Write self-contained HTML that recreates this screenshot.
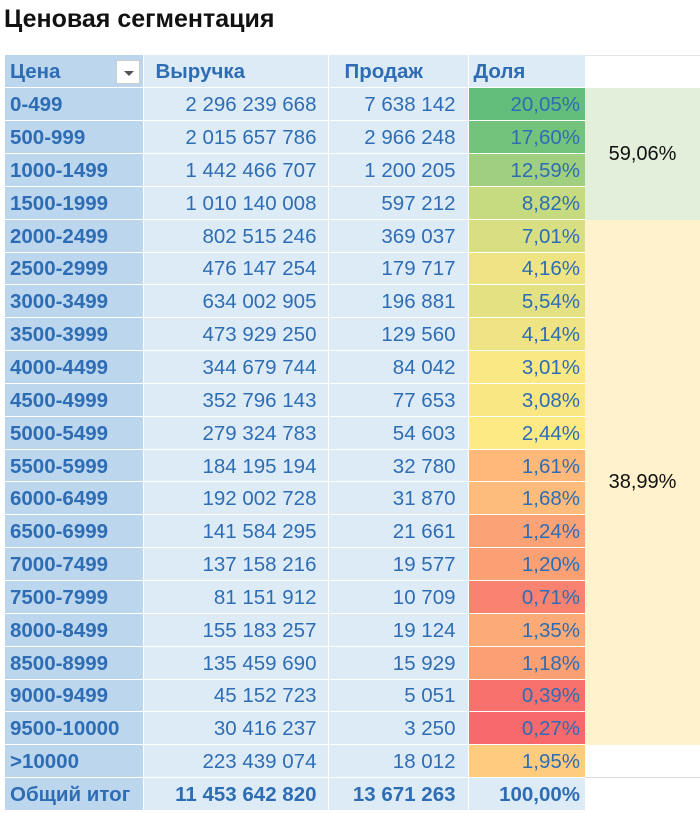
<!DOCTYPE html>
<html><head><meta charset="utf-8"><style>
body{margin:0;width:700px;height:813px;background:#fff;font-family:"Liberation Sans",sans-serif;position:relative;overflow:hidden}
.t{position:absolute;left:4px;top:5px;font-size:25px;font-weight:bold;color:#111}
table{position:absolute;left:5px;top:55px;border-collapse:collapse}
td{height:32.85px;padding:0 5px;font-size:20.5px;color:#2e6db4;white-space:nowrap;box-sizing:border-box;border-bottom:1px solid #fff;padding-top:2px}
td.a{width:138px;background:#bcd6ee;font-weight:bold;border-right:1px solid #fff}
td.b{width:185px;background:#ddebf7;text-align:right;border-right:1px solid #fff;padding-right:11px}
td.c{width:140px;background:#ddebf7;text-align:right;border-right:1px solid #fff;padding-right:12px}
td.d{width:117px;background:#ddebf7;text-align:right}
tr.h td{font-weight:bold;text-align:left;background:#ddebf7}
tr.h td.a{background:#bcd6ee}
tr.f td{font-weight:bold;background:#ddebf7}
tr.f td.a{background:#bcd6ee}
.dd{position:absolute;left:116px;top:60px;width:24px;height:24px;background:#fff;border:1px solid #ccc;box-sizing:border-box}
.dd:after{content:"";position:absolute;left:7px;top:10px;border-left:5px solid transparent;border-right:5px solid transparent;border-top:5px solid #555}
.g{position:absolute;left:585px;width:115px;display:flex;align-items:center;justify-content:center;font-size:20px;color:#111}
</style></head><body>
<div class="t">Ценовая сегментация</div>
<div style="position:absolute;left:585px;top:55px;width:115px;height:1px;background:#e6e6e6"></div>
<div class="g" style="top:88px;height:132px;background:#e2efda">59,06%</div>
<div class="g" style="top:220px;height:525px;background:#fff2cc">38,99%</div>
<div style="position:absolute;left:585px;top:777px;width:115px;height:1px;background:#ddd"></div>
<table>
<tr class="h"><td class="a">Цена</td><td class="b" style="text-align:left;padding-left:12px">Выручка</td><td class="c" style="text-align:left;padding-left:16px">Продаж</td><td class="d">Доля</td></tr>
<tr><td class="a">0-499</td><td class="b">2 296 239 668</td><td class="c">7 638 142</td><td class="d" style="background:#63be7b">20,05%</td></tr>
<tr><td class="a">500-999</td><td class="b">2 015 657 786</td><td class="c">2 966 248</td><td class="d" style="background:#74c37c">17,60%</td></tr>
<tr><td class="a">1000-1499</td><td class="b">1 442 466 707</td><td class="c">1 200 205</td><td class="d" style="background:#a0cf7f">12,59%</td></tr>
<tr><td class="a">1500-1999</td><td class="b">1 010 140 008</td><td class="c">597 212</td><td class="d" style="background:#c6da80">8,82%</td></tr>
<tr><td class="a">2000-2499</td><td class="b">802 515 246</td><td class="c">369 037</td><td class="d" style="background:#d7df82">7,01%</td></tr>
<tr><td class="a">2500-2999</td><td class="b">476 147 254</td><td class="c">179 717</td><td class="d" style="background:#eee483">4,16%</td></tr>
<tr><td class="a">3000-3499</td><td class="b">634 002 905</td><td class="c">196 881</td><td class="d" style="background:#e3e182">5,54%</td></tr>
<tr><td class="a">3500-3999</td><td class="b">473 929 250</td><td class="c">129 560</td><td class="d" style="background:#eee483">4,14%</td></tr>
<tr><td class="a">4000-4499</td><td class="b">344 679 744</td><td class="c">84 042</td><td class="d" style="background:#f9e883">3,01%</td></tr>
<tr><td class="a">4500-4999</td><td class="b">352 796 143</td><td class="c">77 653</td><td class="d" style="background:#f8e783">3,08%</td></tr>
<tr><td class="a">5000-5499</td><td class="b">279 324 783</td><td class="c">54 603</td><td class="d" style="background:#feea84">2,44%</td></tr>
<tr><td class="a">5500-5999</td><td class="b">184 195 194</td><td class="c">32 780</td><td class="d" style="background:#fdb87a">1,61%</td></tr>
<tr><td class="a">6000-6499</td><td class="b">192 002 728</td><td class="c">31 870</td><td class="d" style="background:#fdbc7b">1,68%</td></tr>
<tr><td class="a">6500-6999</td><td class="b">141 584 295</td><td class="c">21 661</td><td class="d" style="background:#fba276">1,24%</td></tr>
<tr><td class="a">7000-7499</td><td class="b">137 158 216</td><td class="c">19 577</td><td class="d" style="background:#fba075">1,20%</td></tr>
<tr><td class="a">7500-7999</td><td class="b">81 151 912</td><td class="c">10 709</td><td class="d" style="background:#f98370">0,71%</td></tr>
<tr><td class="a">8000-8499</td><td class="b">155 183 257</td><td class="c">19 124</td><td class="d" style="background:#fcaa77">1,35%</td></tr>
<tr><td class="a">8500-8999</td><td class="b">135 459 690</td><td class="c">15 929</td><td class="d" style="background:#fb9f75">1,18%</td></tr>
<tr><td class="a">9000-9499</td><td class="b">45 152 723</td><td class="c">5 051</td><td class="d" style="background:#f8716d">0,39%</td></tr>
<tr><td class="a">9500-10000</td><td class="b">30 416 237</td><td class="c">3 250</td><td class="d" style="background:#f8696b">0,27%</td></tr>
<tr><td class="a">&gt;10000</td><td class="b">223 439 074</td><td class="c">18 012</td><td class="d" style="background:#fdcc7e">1,95%</td></tr>
<tr class="f"><td class="a">Общий итог</td><td class="b">11 453 642 820</td><td class="c">13 671 263</td><td class="d">100,00%</td></tr>
</table>
<div class="dd"></div>
</body></html>
